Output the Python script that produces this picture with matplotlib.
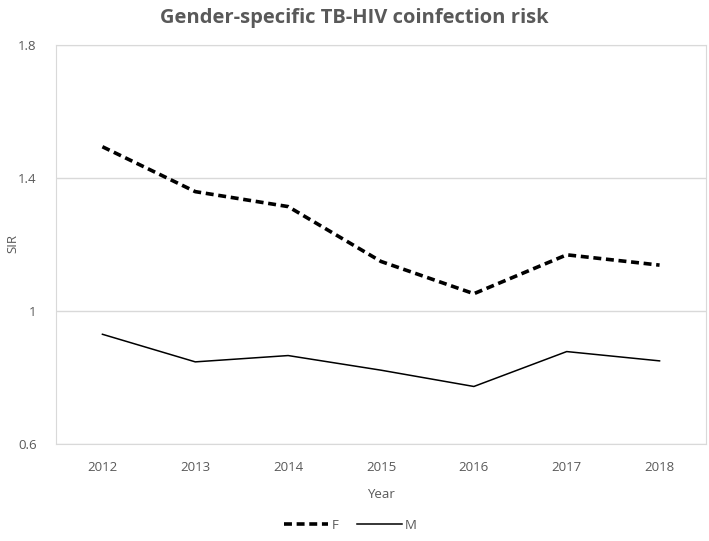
import numpy as np
import matplotlib.pyplot as plt

# datos
years = ["2012", "2013", "2014", "2015", "2016", "2017", "2018"]
sir_f = [1.494, 1.359, 1.314, 1.149, 1.052, 1.169, 1.138]
sir_m = [0.930, 0.847, 0.866, 0.822, 0.773, 0.878, 0.850]

gris = "#595959"
plt.rcParams['font.family'] = ['Open Sans', 'DejaVu Sans']

fig = plt.figure(figsize=(7.09, 5.41), dpi=100)
ax = fig.add_axes([56/709, 1-444/541, 650/709, 399/541])

x = np.arange(len(years))
ax.plot(x, sir_f, color="black", lw=2.6, dashes=(2.2, 1.3), label="F")
ax.plot(x, sir_m, color="black", lw=1.1, label="M")

ax.set_xlim(-0.5, len(years) - 0.5)
ax.set_ylim(0.6, 1.8)
ax.set_yticks([0.6, 1.0, 1.4, 1.8])
ax.set_yticklabels(["0.6", "1", "1.4", "1.8"])
ax.set_xticks(x)
ax.set_xticklabels(years)
ax.yaxis.grid(True, color="#d9d9d9", lw=1)
ax.set_axisbelow(True)
for s in ax.spines.values():
    s.set_color("#d9d9d9")
ax.tick_params(length=0, colors=gris, labelsize=9.5)
ax.tick_params(axis="x", pad=12)
ax.tick_params(axis="y", pad=14)

ax.set_xlabel("Year", color=gris, fontsize=9.5, labelpad=10)
# etiqueta del eje y puesta a mano para que no se corte
fig.text(13/709, 1 - 244/541, "SIR", rotation=90, ha="center", va="center",
         color=gris, fontsize=9.5)

fig.text(0.5, 0.985, "Gender-specific TB-HIV coinfection risk", ha="center", va="top",
         fontsize=14.5, fontweight="bold", color=gris)

fig.legend(loc="lower center", bbox_to_anchor=(0.494, -0.005), ncol=2, frameon=False,
           fontsize=9.5, labelcolor=gris, handlelength=3.4, columnspacing=1.4, handletextpad=0.25)

fig.savefig("out.png", dpi=100)
